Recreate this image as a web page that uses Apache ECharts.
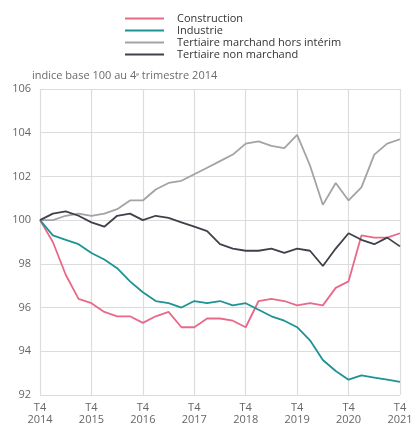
<!DOCTYPE html>
<html>
<head>
<meta charset="utf-8">
<script src="https://cdn.jsdelivr.net/npm/echarts@6/dist/echarts.min.js"></script>
<style>
  html, body { margin: 0; padding: 0; background: #fff; }
  #chart { width: 412px; height: 423px; }
</style>
</head>
<body>
<div id="chart"></div>
<script>
// trimestres T4 2014 -> T4 2021
var quarters = ['T4 2014',
    'T1 2015', 'T2 2015', 'T3 2015', 'T4 2015',
    'T1 2016', 'T2 2016', 'T3 2016', 'T4 2016',
    'T1 2017', 'T2 2017', 'T3 2017', 'T4 2017',
    'T1 2018', 'T2 2018', 'T3 2018', 'T4 2018',
    'T1 2019', 'T2 2019', 'T3 2019', 'T4 2019',
    'T1 2020', 'T2 2020', 'T3 2020', 'T4 2020',
    'T1 2021', 'T2 2021', 'T3 2021', 'T4 2021']

var construction = [100, 99.0, 97.5, 96.4, 96.2, 95.8, 95.6, 95.6, 95.3, 95.6, 95.8, 95.1, 95.1,
    95.5, 95.5, 95.4, 95.1, 96.3, 96.4, 96.3, 96.1, 96.2, 96.1, 96.9, 97.2, 99.3, 99.2, 99.2, 99.4]
var industrie = [100, 99.3, 99.1, 98.9, 98.5, 98.2, 97.8, 97.2, 96.7, 96.3, 96.2, 96.0, 96.3,
    96.2, 96.3, 96.1, 96.2, 95.9, 95.6, 95.4, 95.1, 94.5, 93.6, 93.1, 92.7, 92.9, 92.8, 92.7, 92.6]
var tertiaireMarchand = [100, 100.0, 100.2, 100.3, 100.2, 100.3, 100.5, 100.9, 100.9, 101.4, 101.7, 101.8, 102.1,
    102.4, 102.7, 103.0, 103.5, 103.6, 103.4, 103.3, 103.9, 102.5, 100.7, 101.7, 100.9, 101.5, 103.0, 103.5, 103.7]
var tertiaireNonMarchand = [100, 100.3, 100.4, 100.2, 99.9, 99.7, 100.2, 100.3, 100.0, 100.2, 100.1, 99.9, 99.7,
    99.5, 98.9, 98.7, 98.6, 98.6, 98.7, 98.5, 98.7, 98.6, 97.9, 98.7, 99.4, 99.1, 98.9, 99.2, 98.8]

var seriesNames = ['Construction', 'Industrie', 'Tertiaire marchand hors intérim', 'Tertiaire non marchand']
var colors = ['#e8698a', '#1e9394', '#a3a3a3', '#3d424a']

var echart = echarts.init(document.getElementById('chart'))

var font = 'Open Sans'

function makeLine(name, data, color) {
    return {
        name: name,
        type: 'line',
        data: data,
        symbol: 'none',
        lineStyle: { width: 1.8, color: color },
        itemStyle: { color: color },
        animation: false
    }
}

var option = {
    backgroundColor: '#fff',
    textStyle: { fontFamily: font },
    title: {
        text: 'indice base 100 au 4ᵉ trimestre 2014',
        left: 27,
        top: 65,
        textStyle: { fontSize: 11, fontWeight: 'normal', color: '#6b6b6b', fontFamily: font }
    },
    legend: {
        orient: 'vertical',
        left: 120,
        top: 8,
        itemWidth: 39,
        itemHeight: 2,
        itemGap: 1,
        icon: 'rect',
        textStyle: { fontSize: 11, color: '#333', fontFamily: font, padding: [0, 0, 0, 8] },
        data: seriesNames
    },
    grid: { left: 40, right: 12, top: 89, bottom: 28, containLabel: false, outerBoundsMode: 'none' },
    xAxis: {
        type: 'category',
        data: quarters,
        boundaryGap: false,
        axisLine: { show: false },
        axisTick: { show: false },
        axisLabel: {
            interval: 3,
            color: '#666',
            fontSize: 11,
            lineHeight: 12,
            margin: 7,
            formatter: function (v) { return v.replace(' ', '\n') }
        },
        splitLine: { show: true, interval: 3, lineStyle: { color: '#dcdcdc', width: 1.2 } }
    },
    yAxis: {
        type: 'value',
        min: 92,
        max: 106,
        interval: 2,
        axisLine: { show: false },
        axisTick: { show: false },
        axisLabel: { color: '#666', fontSize: 11, margin: 9 },
        splitLine: { lineStyle: { color: '#dcdcdc', width: 1.2 } }
    },
    series: [
        makeLine(seriesNames[0], construction, colors[0]),
        makeLine(seriesNames[1], industrie, colors[1]),
        makeLine(seriesNames[2], tertiaireMarchand, colors[2]),
        makeLine(seriesNames[3], tertiaireNonMarchand, colors[3])
    ]
}

echart.setOption(option)
</script>
</body>
</html>
